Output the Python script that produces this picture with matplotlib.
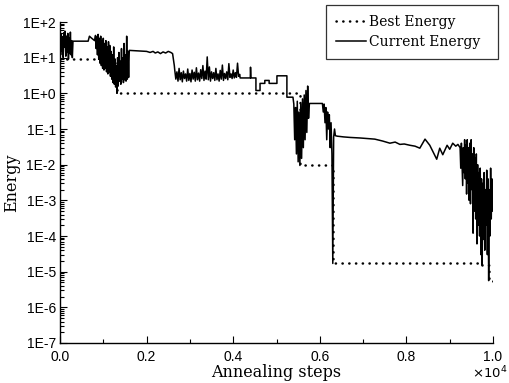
"""Simulated annealing energy trace (best vs current)"""
import numpy as np
import matplotlib
matplotlib.use('Agg')
import matplotlib.pyplot as plt
from matplotlib.ticker import LogLocator, FuncFormatter, MultipleLocator

# best energy found so far (step function)
best_steps = [0, 1316, 5540, 6300, 9750, 9900, 10000]
best_energy = [9.1, 1.0, 0.0095, 1.7e-5, 1.5e-5, 5.6e-6, 5.6e-6]

# current energy
current_steps = [
    0, 15, 30, 45, 60, 75, 90, 105, 120, 135, 150, 165, 180, 195, 210, 225,
    240, 255, 270, 285, 300, 650, 680, 720, 760, 800,
    820, 835, 850, 865, 880, 895, 910, 925, 940, 955, 970, 985, 1000, 1015,
    1030, 1045, 1060, 1075, 1090, 1105, 1120, 1135, 1150,
    1165, 1180, 1195, 1210, 1225, 1240, 1255, 1270, 1285, 1300, 1316, 1330,
    1345, 1360, 1375, 1390, 1405, 1420, 1435, 1450, 1465, 1480, 1495, 1510,
    1525, 1540, 1555, 1570, 1585, 1600,
    1800, 2000, 2080, 2150, 2200, 2260, 2320, 2380, 2440, 2500, 2560, 2600,
    2640,
    2650, 2675, 2700, 2725, 2750, 2775, 2800, 2825, 2850, 2875, 2900, 2925,
    2950, 2975, 3000, 3025, 3050, 3075, 3100, 3125, 3150, 3175, 3200, 3225,
    3250, 3275, 3300, 3325, 3350, 3375, 3400, 3425, 3450, 3475, 3500, 3525,
    3550, 3575, 3600, 3625, 3650, 3675, 3700, 3725, 3750, 3775, 3800, 3825,
    3850, 3875, 3900, 3925, 3950, 3975, 4000, 4025, 4050, 4075, 4100, 4125,
    4150,
    4160, 4395, 4400, 4410, 4525, 4525, 4620, 4620, 4730, 4730, 4830, 4830,
    5010, 5010, 5240, 5240, 5380,
    5400, 5420, 5440, 5460, 5480, 5500, 5520, 5540, 5560, 5580, 5600, 5620,
    5640, 5660, 5680, 5700, 5720, 5740, 5760,
    6060,
    6080, 6100, 6120, 6140, 6160, 6180, 6200, 6220, 6240, 6260, 6280, 6300,
    6320, 6340, 6360,
    6400, 6550, 6700, 6930, 7100, 7270, 7450, 7620, 7740, 7850, 7950, 8080,
    8200, 8310, 8430, 8540, 8700, 8770, 8840, 8940, 9000, 9070, 9140, 9190,
    9240, 9255, 9270, 9285, 9300, 9315, 9330, 9345, 9360, 9375, 9390, 9405,
    9420, 9435, 9450, 9465, 9480, 9495, 9510, 9525, 9540, 9555, 9570, 9585,
    9600, 9615, 9630, 9645, 9660, 9675, 9690, 9705, 9720, 9735, 9750, 9765,
    9780, 9795, 9810, 9825, 9840, 9855, 9870, 9885, 9900, 9915, 9930, 9945,
    9960, 9975, 9990, 10000,
]
current_energy = [
    30, 12, 45, 15, 38, 10, 50, 20, 55, 11, 40, 14, 48, 9.1, 35, 13,
    52, 12, 30, 10, 29, 29, 40, 36, 33, 30,
    42, 18, 38, 12, 45, 9, 35, 7, 40, 6, 30, 5, 35, 4.5,
    25, 5, 30, 4, 20, 3.5, 28, 4, 22,
    3, 15, 2.5, 12, 2, 20, 1.8, 9, 1.5, 6, 1.0, 10,
    1.6, 14, 2.2, 8, 1.8, 18, 2.5, 10, 2, 25, 2.4, 12,
    2.2, 40, 2.5, 15, 2.8, 16,
    15.5, 15, 14, 15, 13.5, 14.5, 13, 14.5, 13.5, 15, 14, 13,
    6,
    4.5, 2.5, 4, 2.2, 5, 2.4, 3.8, 2.1, 4.2, 2.6, 3.5, 2.2,
    4.8, 2.3, 3.6, 2.1, 4.5, 2.5, 3.9, 2.2, 5.2, 2.4, 3.7, 2.2,
    4.6, 2.6, 6, 2.3, 4.2, 2.5, 10.5, 2.4, 5.5, 2.2, 4, 2.6,
    3.8, 2.3, 5, 2.4, 3.5, 2.2, 4.4, 2.5, 6.2, 2.3, 3.6, 2.6,
    4, 2.4, 6.8, 2.8, 3.5, 2.6, 4.5, 2.7, 3.8, 2.8, 7, 3,
    3.4,
    2.7, 2.7, 5.4, 2.7, 2.7, 1.2, 1.2, 1.9, 1.9, 2.3, 2.3, 1.9,
    1.9, 3.1, 3.1, 0.78, 0.78,
    0.5, 0.05, 0.4, 0.02, 0.6, 0.012, 0.3, 0.0095, 0.5, 0.015, 0.7, 0.03,
    0.9, 0.05, 1.2, 0.08, 1.6, 0.2, 0.52,
    0.52,
    0.3, 0.5, 0.15, 0.4, 0.05, 0.3, 0.1, 0.25, 0.03, 0.15, 0.02, 1.7e-5,
    0.06, 0.1, 0.065,
    0.063, 0.06, 0.058, 0.056, 0.054, 0.052, 0.046, 0.04, 0.043, 0.037,
    0.038, 0.035, 0.033, 0.029, 0.052, 0.035, 0.0142, 0.029, 0.019, 0.035,
    0.027, 0.04, 0.033, 0.037,
    0.03, 0.008, 0.04, 0.01, 0.0026, 0.03, 0.006, 0.05, 0.004, 0.035,
    0.0015, 0.05, 0.003, 0.03, 0.001, 0.04, 0.0008, 0.05, 0.002, 0.02,
    1.2e-4, 0.03, 5e-4, 0.015, 3e-4, 0.02, 6e-5, 0.01, 2e-4, 0.006, 1e-4,
    0.008, 3e-5, 0.004, 1.5e-5, 0.003, 8e-5, 0.006, 4e-5, 0.002, 2e-4,
    0.007, 3e-5, 0.004, 5.6e-6, 0.002, 1e-4, 0.008, 3e-4, 0.004, 5e-4,
    0.0016,
]

serif = 'DejaVu Serif'
tickfont = 'Liberation Sans'

fig = plt.figure(figsize=(5.1, 3.83), dpi=100)
ax = fig.add_axes([60 / 510, 1 - 343 / 383, 433 / 510, 321 / 383])

ax.plot(best_steps, best_energy, color='black', linewidth=1.8,
        linestyle=(0, (0.1, 2.6)), dash_capstyle='round',
        drawstyle='steps-post', label='Best Energy')
ax.plot(current_steps, current_energy, color='black', linewidth=1.1,
        label='Current Energy')

ax.set_yscale('log')
ax.set_xlim(0, 10000)
ax.set_ylim(1e-7, 1e2)

ax.yaxis.set_major_locator(LogLocator(base=10, numticks=12))
ax.yaxis.set_minor_locator(LogLocator(base=10, subs=np.arange(2, 10), numticks=12))
ax.yaxis.set_major_formatter(
    FuncFormatter(lambda v, pos: '1E%+d' % int(round(np.log10(v)))))

ax.xaxis.set_major_locator(MultipleLocator(2000))
ax.xaxis.set_minor_locator(MultipleLocator(1000))
ax.xaxis.set_major_formatter(FuncFormatter(lambda v, pos: '%.1f' % (v / 1e4)))
# the x10^4 multiplier, placed by hand under the right end of the axis
fig.text(472 / 510, 1 - 373 / 383, r'$\times10^4$', fontfamily=tickfont,
         fontsize=9.5, va='center', ha='left')

ax.spines['top'].set_visible(False)
ax.spines['right'].set_visible(False)
for spine in ax.spines.values():
    spine.set_linewidth(1.0)

ax.tick_params(which='both', direction='in', width=0.8)
ax.tick_params(which='major', length=5)
ax.tick_params(which='minor', length=3)
ax.tick_params(axis='y', which='both', pad=3)
ax.tick_params(axis='x', which='both', pad=5)
for item in ax.get_xticklabels() + ax.get_yticklabels():
    item.set_fontfamily(tickfont)
    item.set_fontsize(10)

ax.set_xlabel('Annealing steps', fontfamily=serif, fontsize=11.5, labelpad=0)
ax.set_ylabel('Energy', fontfamily=serif, fontsize=11.5, labelpad=2)

leg = ax.legend(loc='upper left',
                bbox_to_anchor=(326 / 510, 1 - 59 / 383, 172 / 510, 54 / 383),
                bbox_transform=fig.transFigure, mode='expand',
                prop={'family': serif, 'size': 10},
                frameon=True, fancybox=False, handlelength=2.15,
                borderpad=0.7, labelspacing=0.45, handletextpad=0.25,
                borderaxespad=0)
leg.get_frame().set_edgecolor('black')
leg.get_frame().set_linewidth(0.9)

fig.savefig('out.png', dpi=100)
